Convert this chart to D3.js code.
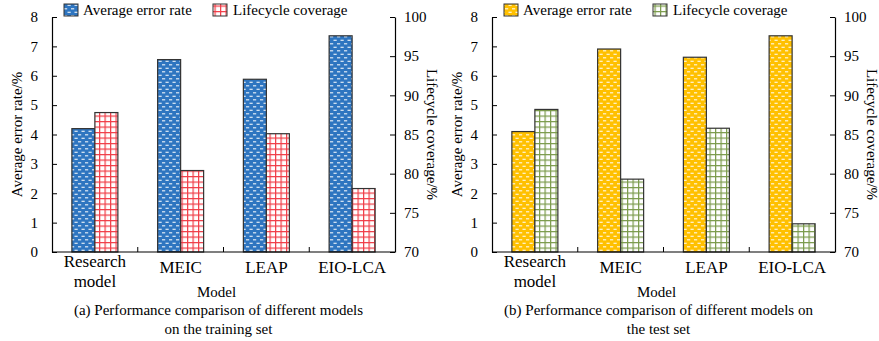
<!DOCTYPE html>
<html>
<head>
<meta charset="utf-8">
<script src="https://cdn.jsdelivr.net/npm/d3@7"></script>
<style>
  body { margin: 0; background: #fff; }
  svg text { font-family: "Liberation Serif", "Times New Roman", serif; fill: #000; }
</style>
</head>
<body>
<div id="chart"></div>
<script>
// categories
var models = [["Research", "model"], ["MEIC"], ["LEAP"], ["EIO-LCA"]];

// (a) training set
var trainError = [4.2, 6.55, 5.88, 7.36];
var trainCoverage = [87.8, 80.4, 85.1, 78.1];

// (b) test set
var testError = [4.1, 6.91, 6.63, 7.36];
var testCoverage = [88.2, 79.3, 85.8, 73.6];

// ticks
var leftTicks = [0, 1, 2, 3, 4, 5, 6, 7, 8];
var rightTicks = [70, 75, 80, 85, 90, 95, 100];

var captionA = ["(a) Performance comparison of different models", "on the training set"];
var captionB = ["(b) Performance comparison of different models on", "the test set"];

var W = 879, H = 341;

var svg = d3.select("#chart").append("svg")
  .attr("width", W)
  .attr("height", H);

var defs = svg.append("defs");

// dashed "brick" fill
function dashPattern(id, color) {
  var p = defs.append("pattern")
    .attr("id", id)
    .attr("patternUnits", "userSpaceOnUse")
    .attr("width", 7)
    .attr("height", 7);
  p.append("rect").attr("width", 7).attr("height", 7).attr("fill", color);
  p.append("rect").attr("x", 1).attr("y", 1.2).attr("width", 3.2).attr("height", 1.2).attr("fill", "#fff").attr("opacity", 0.85);
  p.append("rect").attr("x", 4.5).attr("y", 4.7).attr("width", 3.2).attr("height", 1.2).attr("fill", "#fff").attr("opacity", 0.85);
  p.append("rect").attr("x", -2.5).attr("y", 4.7).attr("width", 3.2).attr("height", 1.2).attr("fill", "#fff").attr("opacity", 0.85);
}

// grid fill
function gridPattern(id, color) {
  var p = defs.append("pattern")
    .attr("id", id)
    .attr("patternUnits", "userSpaceOnUse")
    .attr("width", 5.5)
    .attr("height", 5.5);
  p.append("rect").attr("width", 5.5).attr("height", 5.5).attr("fill", "#fff");
  p.append("rect").attr("x", 0).attr("y", 0).attr("width", 1.2).attr("height", 5.5).attr("fill", color);
  p.append("rect").attr("x", 0).attr("y", 0).attr("width", 5.5).attr("height", 1.2).attr("fill", color);
}

dashPattern("blueDash", "#2e75c0");
gridPattern("redGrid", "#f03c46");
dashPattern("orangeDash", "#ffc000");
gridPattern("greenGrid", "#7a9a4a");

function drawPanel(x0, errors, coverage, fillA, fillB, caption) {
  var left = x0, right = x0 + 343, top = 17, bottom = 252;

  var x = d3.scaleBand()
    .domain(d3.range(models.length))
    .range([left, right]);

  var yL = d3.scaleLinear().domain([0, 8]).range([bottom, top]);
  var yR = d3.scaleLinear().domain([70, 100]).range([bottom, top]);

  var g = svg.append("g");

  var barW = 23;

  // bars
  g.selectAll(".barA")
    .data(errors)
    .enter().append("rect")
    .attr("x", function(d, i){ return x(i) + x.bandwidth() / 2 - barW; })
    .attr("y", function(d){ return yL(d); })
    .attr("width", barW)
    .attr("height", function(d){ return bottom - yL(d); })
    .attr("fill", "url(#" + fillA + ")")
    .attr("stroke", "#333")
    .attr("stroke-width", 1.2);

  g.selectAll(".barB")
    .data(coverage)
    .enter().append("rect")
    .attr("x", function(d, i){ return x(i) + x.bandwidth() / 2; })
    .attr("y", function(d){ return yR(d); })
    .attr("width", barW)
    .attr("height", function(d){ return bottom - yR(d); })
    .attr("fill", "url(#" + fillB + ")")
    .attr("stroke", "#333")
    .attr("stroke-width", 1.2);

  // left axis
  var axL = g.append("g")
    .attr("transform", "translate(" + left + ",0)")
    .call(d3.axisLeft(yL).tickValues(leftTicks).tickSizeInner(-5).tickSizeOuter(0).tickPadding(14));
  // right axis
  var axR = g.append("g")
    .attr("transform", "translate(" + right + ",0)")
    .call(d3.axisRight(yR).tickValues(rightTicks).tickSizeInner(-5).tickSizeOuter(0).tickPadding(9));
  // bottom axis: separators between categories
  var sep = d3.range(1, models.length).map(function(i){ return x(i); });
  g.append("line")
    .attr("x1", left).attr("x2", right)
    .attr("y1", bottom).attr("y2", bottom)
    .attr("stroke", "#000").attr("stroke-width", 1.2);
  g.selectAll(".sep")
    .data(sep)
    .enter().append("line")
    .attr("x1", function(d){ return d; }).attr("x2", function(d){ return d; })
    .attr("y1", bottom).attr("y2", bottom - 5)
    .attr("stroke", "#000").attr("stroke-width", 1);

  [axL, axR].forEach(function(a){
    a.select(".domain").attr("stroke", "#000").attr("stroke-width", 1.2);
    a.selectAll(".tick line").attr("stroke", "#000");
    a.selectAll(".tick text").attr("font-size", "15px").style("font-family", '"Liberation Serif", serif');
  });

  // category labels
  models.forEach(function(lines, i){
    var cx = x(i) + x.bandwidth() / 2;
    var t = g.append("text")
      .attr("text-anchor", "middle")
      .attr("font-size", "17px");
    if (lines.length === 2) {
      t.append("tspan").attr("x", cx).attr("y", 267).text(lines[0]);
      t.append("tspan").attr("x", cx).attr("y", 287).text(lines[1]);
    } else {
      t.append("tspan").attr("x", cx).attr("y", 273).text(lines[0]);
    }
  });

  // axis titles
  g.append("text")
    .attr("transform", "translate(" + (left - 30) + "," + ((top + bottom) / 2) + ") rotate(-90)")
    .attr("text-anchor", "middle")
    .attr("font-size", "15px")
    .text("Average error rate/%");
  g.append("text")
    .attr("transform", "translate(" + (right + 32) + "," + ((top + bottom) / 2) + ") rotate(90)")
    .attr("text-anchor", "middle")
    .attr("font-size", "15px")
    .text("Lifecycle coverage/%");

  g.append("text")
    .attr("x", (left + right) / 2 - 7)
    .attr("y", 297)
    .attr("text-anchor", "middle")
    .attr("font-size", "15px")
    .text("Model");

  caption.forEach(function(c, k){
    g.append("text")
      .attr("x", (left + right) / 2 - 5)
      .attr("y", 315 + k * 19)
      .attr("text-anchor", "middle")
      .attr("font-size", "15px")
      .text(c);
  });

  // legend
  var lg = g.append("g");
  lg.append("rect").attr("x", left + 12).attr("y", 4).attr("width", 14).attr("height", 12)
    .attr("fill", "url(#" + fillA + ")").attr("stroke", "#333");
  lg.append("text").attr("x", left + 31).attr("y", 15).attr("font-size", "15px").text("Average error rate");
  lg.append("rect").attr("x", left + 161).attr("y", 4).attr("width", 14).attr("height", 12)
    .attr("fill", "url(#" + fillB + ")").attr("stroke", "#333");
  lg.append("text").attr("x", left + 181).attr("y", 15).attr("font-size", "15px").text("Lifecycle coverage");
}

drawPanel(52, trainError, trainCoverage, "blueDash", "redGrid", captionA);
drawPanel(492, testError, testCoverage, "orangeDash", "greenGrid", captionB);
</script>
</body>
</html>
